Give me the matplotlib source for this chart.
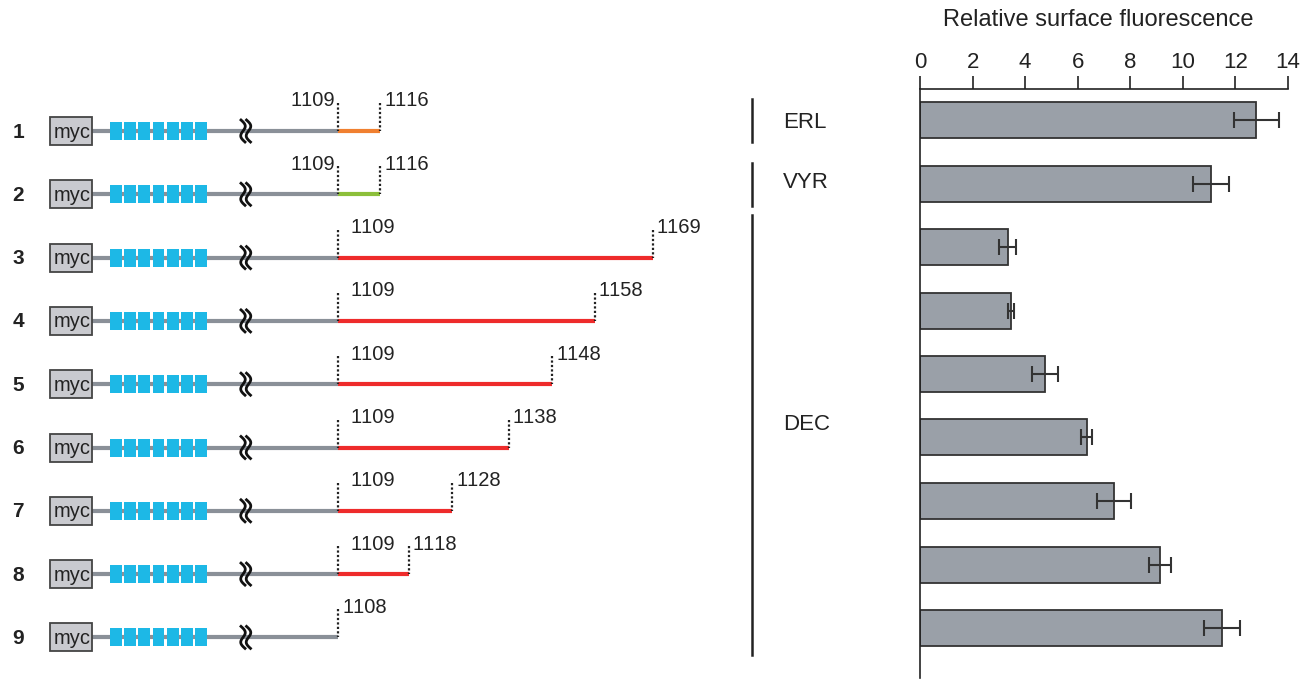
import numpy as np
import matplotlib
matplotlib.use("Agg")
from matplotlib import pyplot as plt
from matplotlib.patches import Rectangle

plt.rcParams['font.family'] = ['Liberation Sans', 'DejaVu Sans']
plt.rcParams['text.kerning_factor'] = 16   # digits evenly spaced, like the original

# data
constructs = ['1', '2', '3', '4', '5', '6', '7', '8', '9']
start_res = [1109, 1109, 1109, 1109, 1109, 1109, 1109, 1109, None]
end_res = [1116, 1116, 1169, 1158, 1148, 1138, 1128, 1118, 1108]
seg_colors = ['#f08030', '#8cbf3a', '#ee2b2b', '#ee2b2b', '#ee2b2b',
              '#ee2b2b', '#ee2b2b', '#ee2b2b', None]
fluor = [12.8, 11.07, 3.34, 3.46, 4.75, 6.34, 7.38, 9.13, 11.49]
fluor_err = [0.85, 0.67, 0.33, 0.12, 0.5, 0.22, 0.65, 0.42, 0.67]
groups = ['ERL', 'VYR', 'DEC']
group_rows = [(0, 0), (1, 1), (2, 8)]

# schematic layout (pixels, not to scale)
W, H = 1314, 681
row_y0, row_dy = 131, 63.3
x_start = 338
end_x = [380, 380, 653, 595, 552, 509, 452, 409, 338]

fig = plt.figure(figsize=(W / 100, H / 100), dpi=100)
ax = fig.add_axes([0, 0, 1, 1])
ax.set_xlim(0, W)
ax.set_ylim(H, 0)
ax.axis('off')

txt = '#222222'
fs = 14.5
for i, name in enumerate(constructs):
    y = row_y0 + i * row_dy
    ax.text(18, y + 1, name, ha='center', va='center', fontsize=15,
            fontweight='bold', color=txt)
    # backbone
    ax.plot([92, x_start], [y, y], color='#8a9098', lw=3, solid_capstyle='butt', zorder=1)
    # myc tag
    ax.add_patch(Rectangle((50, y - 14), 42, 28, facecolor='#c9cacf',
                           edgecolor='#444444', lw=1.3, zorder=3))
    ax.text(72, y + 1, 'myc', ha='center', va='center', fontsize=fs, color=txt, zorder=4)
    # repeats
    for k in range(7):
        ax.add_patch(Rectangle((110 + k * 14.2, y - 9), 11.7, 18,
                               facecolor='#1db8e6', edgecolor='none', zorder=3))
    # break symbol
    t = np.linspace(0, 1, 60)
    yy = y - 11 + 22 * t
    for dx in (0, 5.5):
        ax.plot(241 + dx + 3.2 * np.sin(2 * np.pi * t) + 4 * t, yy,
                color='#111111', lw=2.0, zorder=4)
    # C-terminal segment
    if start_res[i] is not None:
        ax.plot([x_start, end_x[i]], [y, y], color=seg_colors[i], lw=3,
                solid_capstyle='butt', zorder=2)
        ax.plot([x_start, x_start], [y - 28, y], color='#222222', lw=1.6,
                ls=(0, (1, 1)), zorder=3)
        ax.plot([end_x[i], end_x[i]], [y - 28, y], color='#222222', lw=1.6,
                ls=(0, (1, 1)), zorder=3)
        if i < 2:
            ax.text(x_start - 3, y - 30, str(start_res[i]), ha='right',
                    va='center', fontsize=fs, color=txt)
        else:
            ax.text(x_start + 13, y - 30, str(start_res[i]), ha='left',
                    va='center', fontsize=fs, color=txt)
        ax.text(end_x[i] + 4, y - 30, str(end_res[i]), ha='left',
                va='center', fontsize=fs, color=txt)
    else:
        ax.plot([x_start, x_start], [y - 28, y], color='#222222', lw=1.6,
                ls=(0, (1, 1)), zorder=3)
        ax.text(x_start + 5, y - 30, str(end_res[i]), ha='left',
                va='center', fontsize=fs, color=txt)

# group brackets
bar_y0, bar_dy = 120, 63.5
label_y = [123, 183, 424]
for g, (a, b), ly in zip(groups, group_rows, label_y):
    top = bar_y0 + a * bar_dy - 21
    bot = bar_y0 + b * bar_dy + (27 if b == 8 else 22)
    if b == 8:
        top = bar_y0 + a * bar_dy - 32
    ax.plot([752, 752], [top, bot], color='#222222', lw=1.8)
    ax.text(783, ly, g, ha='left', va='center', fontsize=16, color=txt)

# bar chart
ax_top, ax_bot = 89, 3
bx = fig.add_axes([920 / W, ax_bot / H, (1288 - 920) / W, (H - ax_top - ax_bot) / H])
ypos = np.arange(len(fluor))
bx.barh(ypos, fluor, height=36 / 63.5, color='#9aa0a8', edgecolor='#333333',
        lw=1.3, zorder=2)
bx.errorbar(fluor, ypos, xerr=fluor_err, fmt='none', ecolor='#333333',
            elinewidth=1.5, capsize=5.5, capthick=1.5, zorder=3)
bx.set_xlim(0, 14)
top_lim = -(bar_y0 - ax_top) / bar_dy
bot_lim = (H - ax_bot - bar_y0) / bar_dy
bx.set_ylim(bot_lim, top_lim)
bx.xaxis.tick_top()
bx.set_xticks(range(0, 15, 2))
bx.tick_params(axis='x', direction='out', length=9.5, width=1.2, labelsize=16,
               colors='#222222', pad=2)
bx.set_yticks([])
for s in ('right', 'bottom'):
    bx.spines[s].set_visible(False)
for s in ('top', 'left'):
    bx.spines[s].set_linewidth(1.2)
    bx.spines[s].set_color('#222222')
bx.patch.set_visible(False)
fig.text(1098 / W, 1 - 20 / H, 'Relative surface fluorescence', ha='center',
         va='center', fontsize=17, color=txt)

fig.savefig('out.png', dpi=100)
